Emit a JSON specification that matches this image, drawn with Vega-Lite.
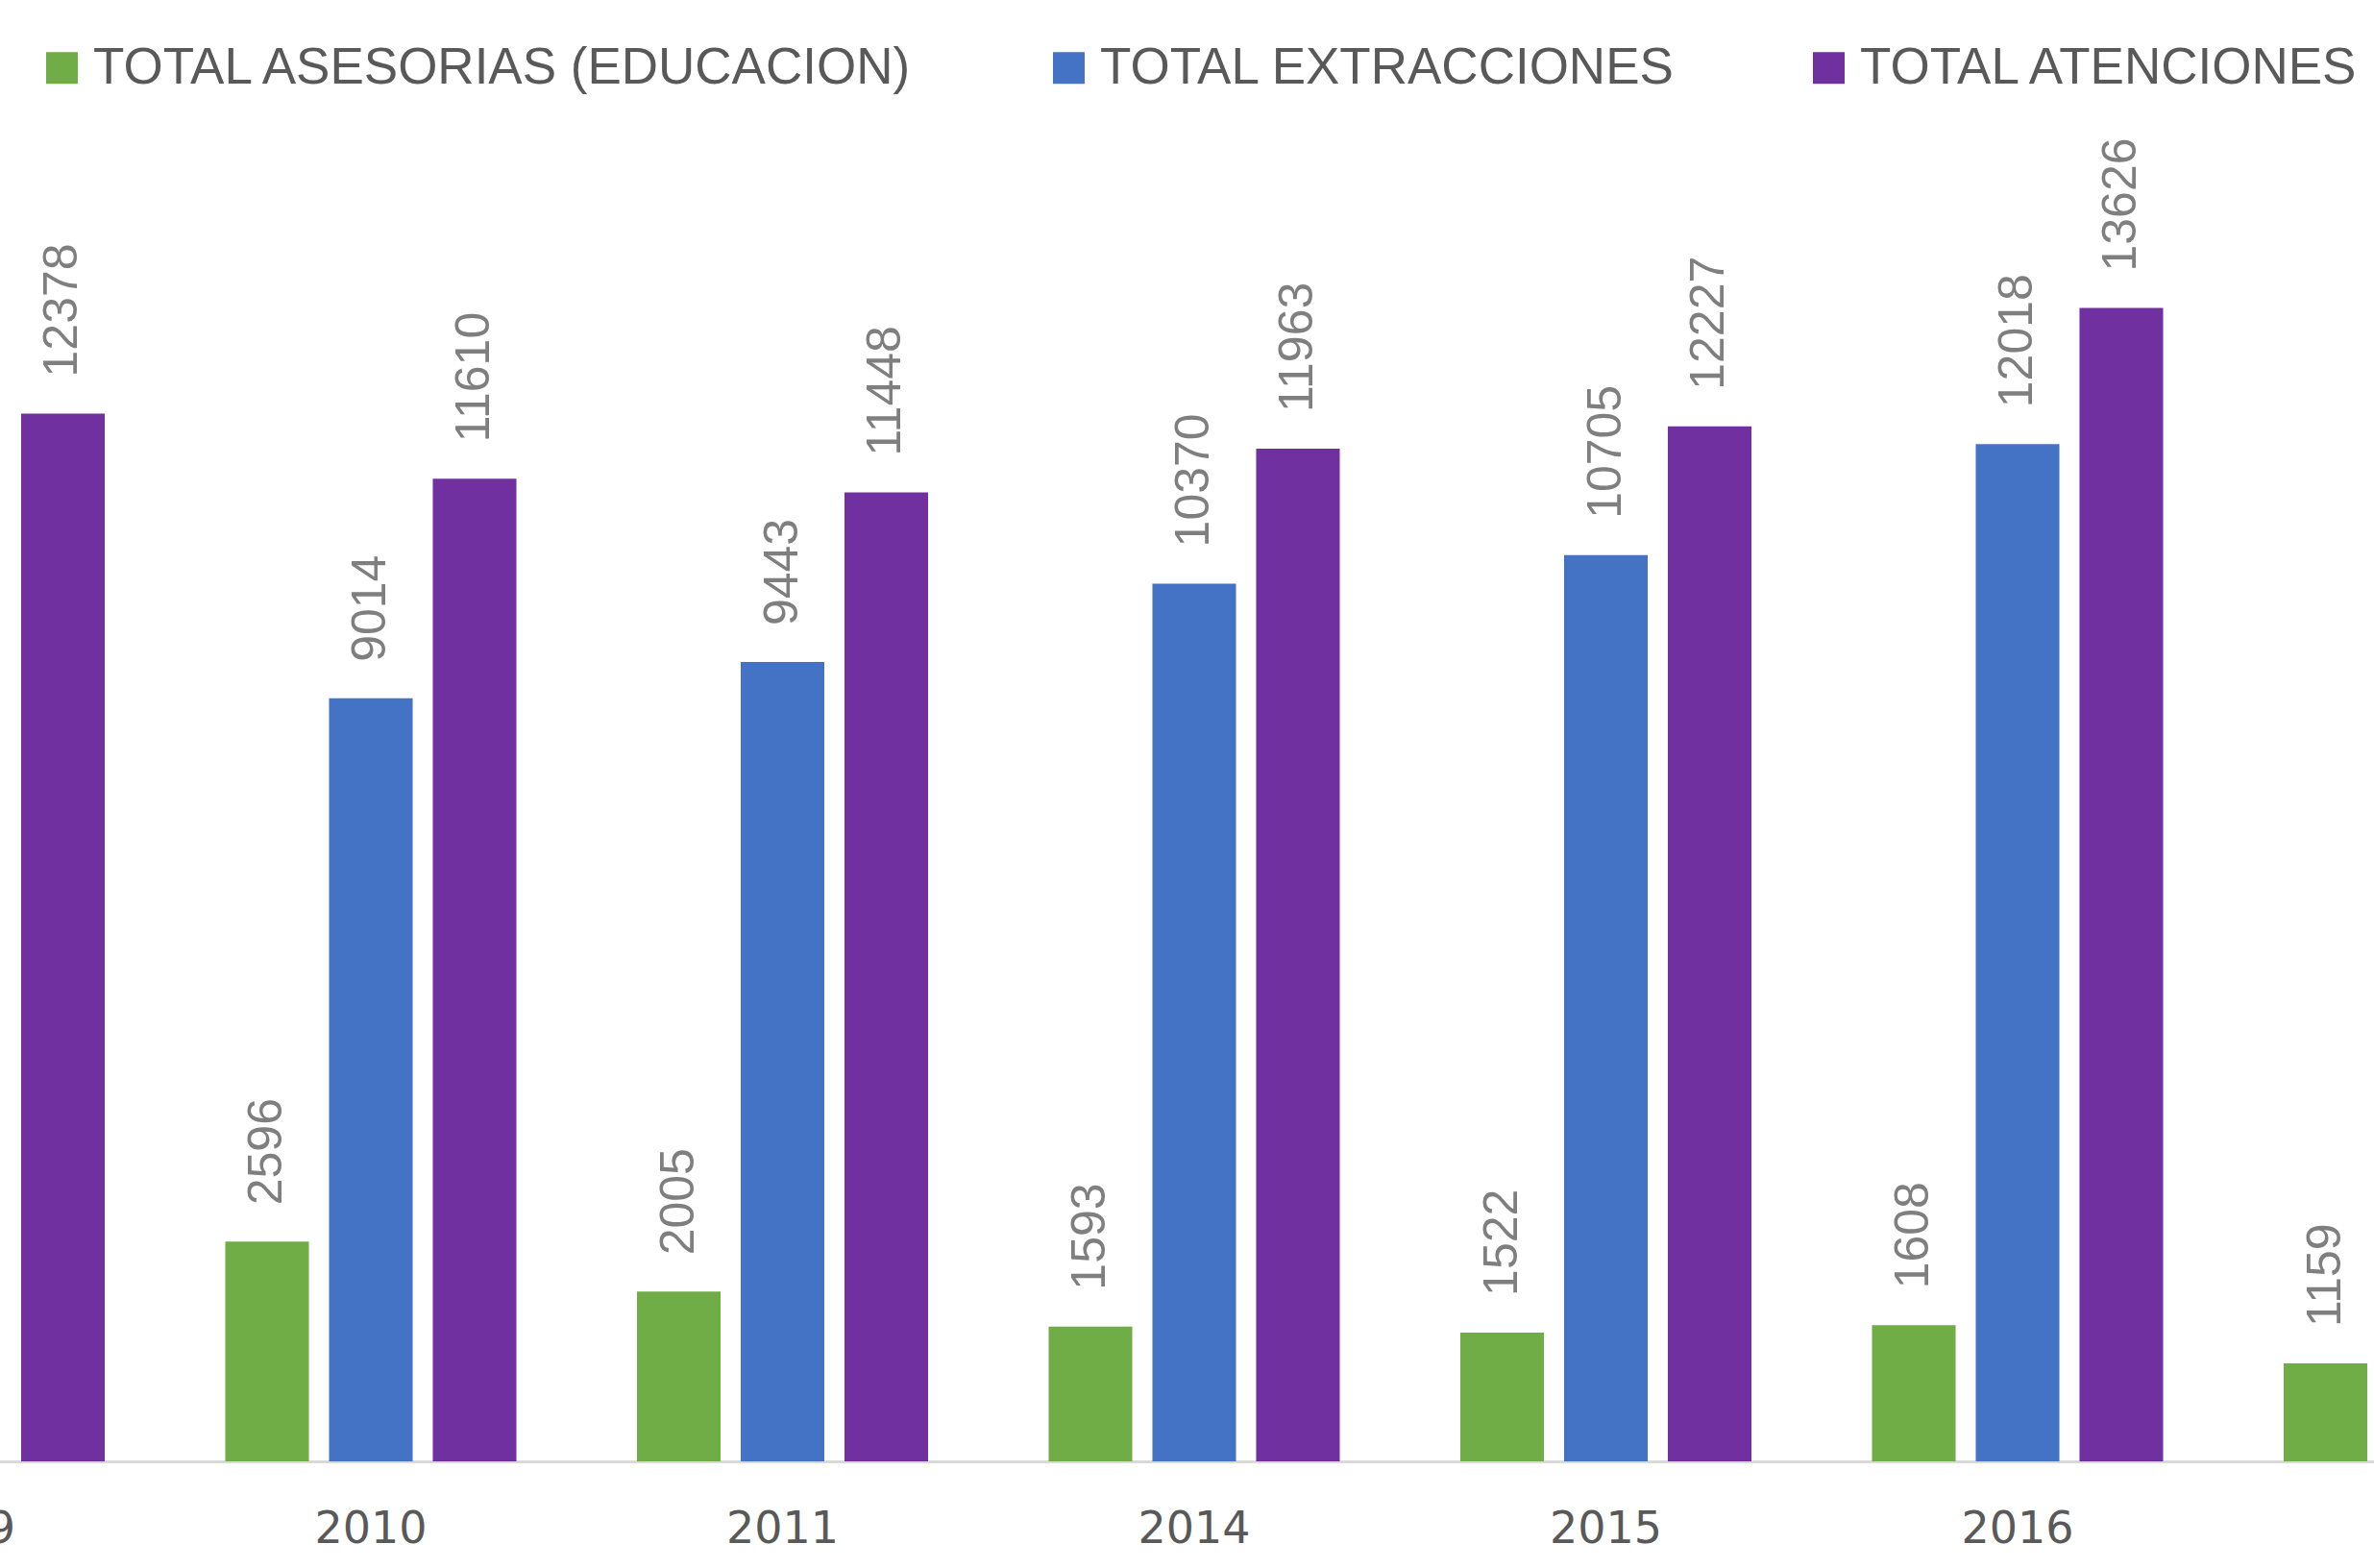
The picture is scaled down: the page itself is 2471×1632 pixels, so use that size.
{
  "$schema": "https://vega.github.io/schema/vega-lite/v6.json",
  "autosize": {"type": "none"},
  "padding": {"left": 0, "top": 0, "right": 0, "bottom": 111},
  "width": 2471,
  "height": 1521,
  "background": "white",
  "config": {"view": {"stroke": null}},
  "data": {
    "values": [
      {"year": "2009", "serie": "TOTAL ATENCIONES", "valor": 12378},
      {"year": "2010", "serie": "TOTAL ASESORIAS (EDUCACION)", "valor": 2596},
      {"year": "2010", "serie": "TOTAL EXTRACCIONES", "valor": 9014},
      {"year": "2010", "serie": "TOTAL ATENCIONES", "valor": 11610},
      {"year": "2011", "serie": "TOTAL ASESORIAS (EDUCACION)", "valor": 2005},
      {"year": "2011", "serie": "TOTAL EXTRACCIONES", "valor": 9443},
      {"year": "2011", "serie": "TOTAL ATENCIONES", "valor": 11448},
      {"year": "2014", "serie": "TOTAL ASESORIAS (EDUCACION)", "valor": 1593},
      {"year": "2014", "serie": "TOTAL EXTRACCIONES", "valor": 10370},
      {"year": "2014", "serie": "TOTAL ATENCIONES", "valor": 11963},
      {"year": "2015", "serie": "TOTAL ASESORIAS (EDUCACION)", "valor": 1522},
      {"year": "2015", "serie": "TOTAL EXTRACCIONES", "valor": 10705},
      {"year": "2015", "serie": "TOTAL ATENCIONES", "valor": 12227},
      {"year": "2016", "serie": "TOTAL ASESORIAS (EDUCACION)", "valor": 1608},
      {"year": "2016", "serie": "TOTAL EXTRACCIONES", "valor": 12018},
      {"year": "2016", "serie": "TOTAL ATENCIONES", "valor": 13626},
      {"year": "2017", "serie": "TOTAL ASESORIAS (EDUCACION)", "valor": 1159}
    ]
  },
  "encoding": {
    "x": {
      "field": "year", "type": "ordinal",
      "scale": {"domain": ["2009", "2010", "2011", "2014", "2015", "2016", "2017"], "range": [-256.75, 2742.75], "paddingInner": 0, "paddingOuter": 0},
      "axis": {"title": null, "labelAngle": 0, "ticks": false, "tickSize": 0, "domainColor": "#D9D9D9", "domainWidth": 3, "labelFont": "DejaVu Sans", "labelFontSize": 46, "labelColor": "#595959", "labelBaseline": "alphabetic", "labelPadding": 84, "grid": false}
    },
    "xOffset": {
      "field": "serie", "type": "nominal",
      "sort": ["TOTAL ASESORIAS (EDUCACION)", "TOTAL EXTRACCIONES", "TOTAL ATENCIONES"],
      "scale": {"domain": ["TOTAL ASESORIAS (EDUCACION)", "TOTAL EXTRACCIONES", "TOTAL ATENCIONES"], "paddingInner": 0.194, "paddingOuter": 0.581}
    },
    "y": {
      "field": "valor", "type": "quantitative",
      "scale": {"domain": [0, 17264], "nice": false, "zero": true},
      "axis": null
    }
  },
  "layer": [
    {
      "mark": {"type": "bar", "clip": true},
      "encoding": {
        "color": {
          "field": "serie", "type": "nominal",
          "scale": {"domain": ["TOTAL ASESORIAS (EDUCACION)", "TOTAL EXTRACCIONES", "TOTAL ATENCIONES"], "range": ["#70AD47", "#4472C4", "#7030A0"]},
          "legend": {"orient": "none", "legendX": 38, "legendY": 44, "direction": "horizontal", "title": null, "symbolType": "square", "symbolSize": 1089, "symbolStrokeWidth": 0, "symbolOpacity": 1, "labelFontSize": 53, "labelFont": "Liberation Sans", "labelColor": "#595959", "labelLimit": 2000, "columnPadding": 133, "labelOffset": 6}
        }
      }
    },
    {
      "mark": {"type": "text", "clip": true, "angle": -90, "align": "left", "baseline": "middle", "dx": 38, "font": "Liberation Sans", "fontSize": 50, "color": "#7F7F7F"},
      "encoding": {
        "text": {"field": "valor", "type": "quantitative", "format": "d"}
      }
    }
  ]
}
